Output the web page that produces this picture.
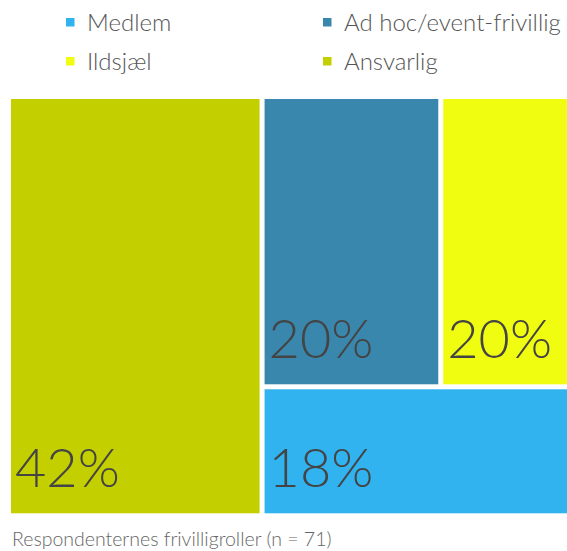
<!DOCTYPE html>
<html>
<head>
<meta charset="utf-8">
<script src="https://cdn.jsdelivr.net/npm/d3@7"></script>
<style>
  body { margin: 0; background: #fff; }
  svg { display: block; overflow: hidden; }
  text { font-family: Lato, "Open Sans", sans-serif; font-weight: 300; }
</style>
</head>
<body>
<div id="chart"></div>
<script>
// roles and their share of respondents (%)
const roles = ["Ansvarlig", "Ad hoc/event-frivillig", "Ildsjæl", "Medlem"];
const shares = [41.5, 20.25, 20.25, 18];
const legendOrder = ["Medlem", "Ad hoc/event-frivillig", "Ildsjæl", "Ansvarlig"];
const caption = "Respondenternes frivilligroller (n = 71)";

const colors = {
  "Medlem": "#31b3f0",
  "Ad hoc/event-frivillig": "#3a87ae",
  "Ildsjæl": "#f1fd10",
  "Ansvarlig": "#c4cf00"
};

const width = 567;
const height = 551;
// the treemap runs past the right edge of the frame, as in the original
const area = { left: 11, top: 99, width: 606, height: 414.3 };

const svg = d3
  .select("#chart")
  .append("svg")
  .attr("width", width)
  .attr("height", height);

// legend, two columns
const legend = svg
  .append("g")
  .selectAll("g")
  .data(legendOrder)
  .join("g")
  .attr("transform", (d, i) => `translate(${i % 2 ? 323 : 66}, ${i < 2 ? 18 : 57})`);

legend
  .append("rect")
  .attr("width", 8.5)
  .attr("height", 8.5)
  .attr("fill", (d) => colors[d]);

legend
  .append("text")
  .attr("x", 21)
  .attr("y", 12.5)
  .attr("font-size", 24)
  .attr("fill", "#555")
  .text((d) => d);

// treemap
const root = d3
  .hierarchy({ children: roles.map((r, i) => ({ name: r, value: shares[i] })) })
  .sum((d) => d.value || 0)
  .sort((a, b) => b.value - a.value);

d3
  .treemap()
  .tile(d3.treemapSquarify.ratio(1))
  .size([area.width, area.height])
  .paddingInner(5)(root);

const cells = svg
  .append("g")
  .attr("transform", `translate(${area.left}, ${area.top})`)
  .selectAll("g")
  .data(root.leaves())
  .join("g")
  .attr("transform", (d) => `translate(${d.x0}, ${d.y0})`);

cells
  .append("rect")
  .attr("width", (d) => d.x1 - d.x0)
  .attr("height", (d) => d.y1 - d.y0)
  .attr("fill", (d) => colors[d.data.name]);

cells
  .append("text")
  .attr("x", 4)
  .attr("y", (d) => d.y1 - d.y0 - 26)
  .attr("font-size", 54)
  .attr("fill", "#444")
  .text((d) => Math.round(d.value) + "%");

svg
  .append("text")
  .attr("x", 12)
  .attr("y", 546)
  .attr("font-size", 19.5)
  .attr("fill", "#666")
  .text(caption);
</script>
</body>
</html>
